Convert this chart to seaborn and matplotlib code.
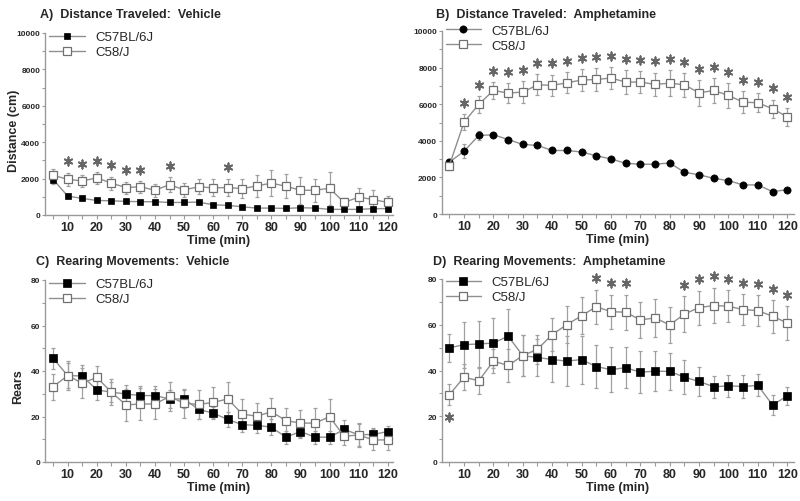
import matplotlib
matplotlib.use("Agg")
import matplotlib.pyplot as plt
from matplotlib.ticker import MultipleLocator, FixedLocator
import seaborn as sns
import pandas as pd

# ---------------- data ----------------
time = [5, 10, 15, 20, 25, 30, 35, 40, 45, 50, 55, 60,
        65, 70, 75, 80, 85, 90, 95, 100, 105, 110, 115, 120]
xtick_labels = [10, 20, 30, 40, 50, 60, 70, 80, 90, 100, 110, 120]
strains = ["C57BL/6J", "C58/J"]

# A) Distance traveled, vehicle
A_b6 = [1950, 1040, 910, 800, 780, 750, 730, 730, 690, 690, 710, 560,
        530, 450, 380, 380, 360, 400, 380, 310, 310, 310, 350, 350]
A_b6_err = [250, 120, 100, 80, 80, 80, 80, 80, 80, 80, 80, 80,
            80, 80, 70, 70, 70, 70, 70, 60, 60, 60, 60, 60]
A_c58 = [2180, 1960, 1870, 2040, 1750, 1510, 1550, 1360, 1670, 1380, 1550, 1490,
         1510, 1450, 1600, 1750, 1580, 1360, 1360, 1470, 690, 980, 850, 690]
A_c58_err = [360, 360, 310, 330, 360, 330, 330, 360, 420, 400, 420, 470,
             490, 510, 600, 710, 650, 730, 640, 900, 270, 530, 510, 360]
A_sig = [10, 15, 20, 25, 30, 35, 45, 65]

# B) Distance traveled, amphetamine
B_b6 = [2830, 3430, 4290, 4330, 4070, 3800, 3750, 3470, 3470, 3390, 3180, 3010,
        2770, 2720, 2720, 2790, 2280, 2140, 1950, 1820, 1590, 1590, 1220, 1330]
B_b6_err = [150, 370, 270, 120, 120, 100, 100, 100, 100, 100, 100, 100,
            100, 100, 100, 100, 120, 100, 100, 100, 100, 100, 100, 100]
B_c58 = [2650, 5020, 5990, 6750, 6610, 6660, 7060, 7030, 7170, 7320, 7350, 7430,
         7210, 7210, 7080, 7150, 7060, 6620, 6750, 6480, 6110, 6080, 5750, 5310]
B_c58_err = [250, 420, 450, 450, 530, 600, 570, 580, 580, 580, 620, 600,
             640, 600, 640, 700, 650, 710, 690, 670, 610, 530, 490, 490]
B_sig = [10, 15, 20, 25, 30, 35, 40, 45, 50, 55, 60, 65,
         70, 75, 80, 85, 90, 95, 100, 105, 110, 115, 120]

# C) Rearing, vehicle
C_b6 = [45.5, 38.0, 37.8, 31.7, 30.7, 29.9, 29.2, 29.2, 27.7, 27.7, 23.1, 21.5,
        18.7, 16.4, 16.1, 15.3, 10.9, 13.4, 10.9, 10.9, 14.3, 12.0, 12.1, 13.4]
C_b6_err = [4.5, 5.5, 5.0, 4.5, 4.5, 4.0, 4.0, 4.0, 4.0, 4.0, 4.3, 2.8,
            3.2, 3.3, 3.2, 3.6, 2.8, 3.0, 2.8, 2.8, 4.2, 4.8, 2.8, 2.5]
C_c58 = [33.1, 38.0, 34.6, 37.2, 30.7, 25.1, 25.5, 25.5, 28.8, 25.8, 25.3, 26.2,
         27.7, 21.1, 20.1, 22.1, 18.2, 17.1, 17.1, 19.9, 11.3, 11.9, 9.7, 9.7]
C_c58_err = [5.8, 6.2, 6.5, 5.0, 5.8, 7.0, 7.0, 6.5, 6.5, 6.5, 6.5, 6.8,
             7.6, 6.6, 5.8, 6.0, 5.5, 5.9, 6.6, 7.8, 3.8, 5.2, 4.6, 4.6]
C_sig = []

# D) Rearing, amphetamine
D_b6 = [49.9, 51.3, 51.6, 52.0, 55.0, 46.5, 45.7, 44.8, 44.1, 44.8, 41.7, 40.4,
        41.2, 39.3, 39.7, 39.6, 37.1, 35.2, 32.9, 33.3, 33.0, 33.5, 24.9, 28.9]
D_b6_err = [6.0, 10.0, 10.2, 10.9, 12.0, 9.0, 8.0, 10.0, 11.0, 10.5, 9.5, 9.7,
            9.0, 9.3, 8.8, 8.1, 7.3, 6.3, 4.9, 4.8, 5.2, 4.8, 4.2, 3.8]
D_c58 = [29.4, 37.1, 35.5, 44.1, 42.2, 46.5, 49.3, 55.7, 60.1, 63.9, 67.9, 65.7,
         65.5, 62.1, 63.0, 59.9, 64.7, 67.5, 68.4, 68.1, 66.6, 66.2, 63.7, 60.8]
D_c58_err = [4.6, 5.8, 5.7, 5.4, 7.3, 9.0, 6.3, 7.3, 8.0, 8.1, 7.4, 7.4,
             7.7, 8.0, 8.3, 7.7, 7.7, 7.4, 7.7, 7.0, 6.7, 6.7, 7.1, 7.3]
D_sig = [55, 60, 65, 85, 90, 95, 100, 105, 110, 115, 120]
D_sig_below = [5]

# ---------------- style ----------------
sns.set_style("ticks")
plt.rcParams["font.family"] = ["Liberation Sans", "DejaVu Sans"]

LINE = "#8f8f8f"
ERR = "#a0a0a0"
SPINE = "#9a9a9a"
STAR = "#666666"

fig = plt.figure(figsize=(8, 5.02), dpi=100)

W, H = 800.0, 502.0


def axes_px(left, top, right, bottom):
    return fig.add_axes([left / W, 1 - bottom / H, (right - left) / W, (bottom - top) / H])


panels = [
    dict(rect=(45, 34, 393, 216), title="A)  Distance Traveled:  Vehicle", tpos=(40, 15),
         b6=A_b6, b6e=A_b6_err, c58=A_c58, c58e=A_c58_err, sig=A_sig, below=[],
         ylim=10000, ymaj=2000, ymin=1000, off=620, ylabel="Distance (cm)",
         ylab_xy=(-0.072, 0.47),
         b6marker="s", b6ms=4, c58ms=5.8, xlim=(2.2, 121.8), leg=(0.012, 1.01)),
    dict(rect=(442, 32, 794, 215), title="B)  Distance Traveled:  Amphetamine", tpos=(436, 15),
         b6=B_b6, b6e=B_b6_err, c58=B_c58, c58e=B_c58_err, sig=B_sig, below=[],
         ylim=10000, ymaj=2000, ymin=1000, off=620, ylabel=None, ylab_xy=None,
         b6marker="o", b6ms=5.2, c58ms=5.8, xlim=(2.5, 122.3), leg=(0.01, 1.035)),
    dict(rect=(45, 281, 393, 463), title="C)  Rearing Movements:  Vehicle", tpos=(36, 262),
         b6=C_b6, b6e=C_b6_err, c58=C_c58, c58e=C_c58_err, sig=C_sig, below=[],
         ylim=80, ymaj=20, ymin=10, off=5, ylabel="Rears", ylab_xy=(-0.060, 0.42),
         b6marker="s", b6ms=5.8, c58ms=5.8, xlim=(2.2, 121.8), leg=(0.012, 1.01)),
    dict(rect=(442, 280, 794, 463), title="D)  Rearing Movements:  Amphetamine", tpos=(433, 262),
         b6=D_b6, b6e=D_b6_err, c58=D_c58, c58e=D_c58_err, sig=D_sig, below=D_sig_below,
         ylim=80, ymaj=20, ymin=10, off=5, ylabel=None, ylab_xy=None,
         b6marker="s", b6ms=5.8, c58ms=5.8, xlim=(2.5, 122.3), leg=(0.01, 1.015)),
]

for p in panels:
    ax = axes_px(*p["rect"])
    df = pd.DataFrame({"time": time, "b6": p["b6"], "b6e": p["b6e"],
                       "c58": p["c58"], "c58e": p["c58e"]})

    # error bars (behind)
    ax.errorbar(df["time"], df["b6"], yerr=df["b6e"], fmt="none", ecolor=ERR,
                elinewidth=0.9, capsize=1.5, capthick=0.9, zorder=1)
    ax.errorbar(df["time"], df["c58"], yerr=df["c58e"], fmt="none", ecolor=ERR,
                elinewidth=0.9, capsize=1.5, capthick=0.9, zorder=1)

    # lines with markers via seaborn
    sns.lineplot(data=df, x="time", y="b6", ax=ax, color=LINE, linewidth=1.0,
                 marker=p["b6marker"], markersize=p["b6ms"], markerfacecolor="black",
                 markeredgecolor="black", markeredgewidth=0.5, label=strains[0],
                 errorbar=None, zorder=3)
    sns.lineplot(data=df, x="time", y="c58", ax=ax, color=LINE, linewidth=1.0,
                 marker="s", markersize=p["c58ms"], markerfacecolor="white",
                 markeredgecolor="#707070", markeredgewidth=0.9, label=strains[1],
                 errorbar=None, zorder=3)

    # significance asterisks
    idx = {t: i for i, t in enumerate(time)}
    sx = [t for t in p["sig"]]
    sy = [p["c58"][idx[t]] + p["c58e"][idx[t]] + p["off"] for t in p["sig"]]
    if sx:
        ax.scatter(sx, sy, marker=(6, 2, 0), s=36, color=STAR, linewidths=1.3,
                   zorder=4, clip_on=False)
    bx = [t for t in p["below"]]
    by = [p["c58"][idx[t]] - p["c58e"][idx[t]] - p["off"] for t in p["below"]]
    if bx:
        ax.scatter(bx, by, marker=(6, 2, 0), s=36, color=STAR, linewidths=1.3,
                   zorder=4, clip_on=False)

    ax.set_xlim(*p["xlim"])
    ax.set_ylim(0, p["ylim"])
    ax.xaxis.set_major_locator(FixedLocator(xtick_labels))
    ax.xaxis.set_minor_locator(FixedLocator([t for t in time if t not in xtick_labels]))
    ax.yaxis.set_major_locator(MultipleLocator(p["ymaj"]))
    ax.yaxis.set_minor_locator(MultipleLocator(p["ymin"]))

    for side in ("top", "right"):
        ax.spines[side].set_visible(False)
    for side in ("left", "bottom"):
        ax.spines[side].set_color(SPINE)
        ax.spines[side].set_linewidth(1.0)

    ax.tick_params(axis="x", which="both", length=3, width=0.8, color=SPINE,
                   direction="out", pad=1)
    ax.tick_params(axis="y", which="both", length=2.5, width=0.8, color=SPINE,
                   direction="out", pad=1)
    for lab in ax.get_xticklabels():
        lab.set_fontsize(9)
        lab.set_fontweight("bold")
    for lab in ax.get_yticklabels():
        lab.set_fontsize(6)
        lab.set_fontweight("bold")

    ax.set_xlabel("Time (min)", fontsize=9, fontweight="bold", labelpad=1)
    if p["ylabel"]:
        ax.set_ylabel(p["ylabel"], fontsize=9, fontweight="bold")
        ax.yaxis.set_label_coords(*p["ylab_xy"])
    else:
        ax.set_ylabel("")

    ax.legend(loc="upper left", bbox_to_anchor=p["leg"], frameon=False,
              fontsize=9.5, handlelength=2.7, handletextpad=0.8,
              labelspacing=0.2, borderpad=0, borderaxespad=0)

    fig.text(p["tpos"][0] / W, 1 - p["tpos"][1] / H, p["title"], fontsize=9,
             fontweight="bold", ha="left", va="center")

fig.savefig("out.png", dpi=100)
